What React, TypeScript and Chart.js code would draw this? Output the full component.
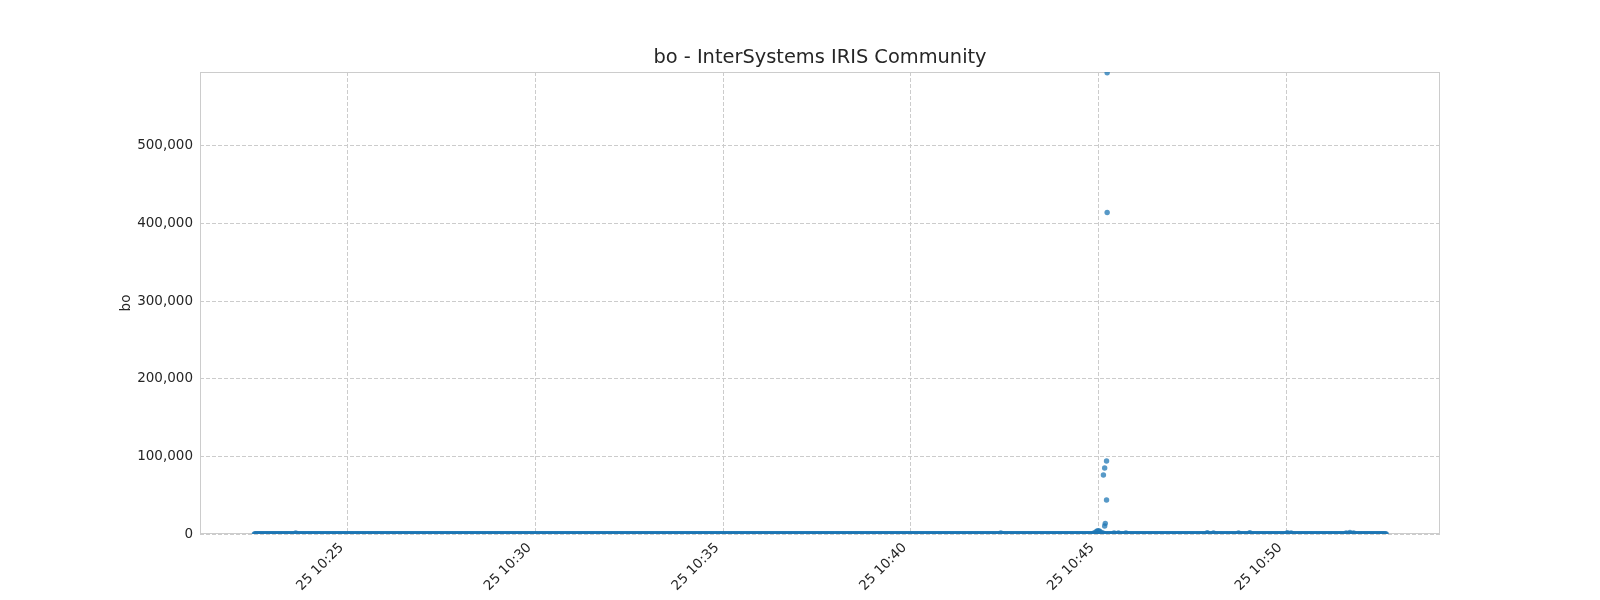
import React, { useEffect, useRef } from 'react';
import Chart from 'chart.js/auto';

// sampling window of the series, one reading per second (zero line)
const seriesStart = '10:22:31';
const seriesEnd = '10:52:40';
const sampleStep = 1;

// readings that stand off the zero line
const peakTimes = [
  '10:23:37', '10:42:24',
  '10:44:53', '10:44:56', '10:44:58', '10:45:00', '10:45:02', '10:45:05', '10:45:08',
  '10:45:08', '10:45:10', '10:45:10', '10:45:11', '10:45:13', '10:45:13', '10:45:14', '10:45:14',
  '10:45:25', '10:45:32', '10:45:44',
  '10:47:54', '10:48:04', '10:48:44', '10:49:02', '10:50:02', '10:50:08',
  '10:51:36', '10:51:42', '10:51:48',
];
const peakValues = [
  1500, 1500,
  1200, 2500, 3800, 4300, 3500, 2000, 900,
  76000, 85000, 10300, 13700, 94000, 43800, 414000, 594000,
  1200, 1500, 1300,
  1800, 1500, 1500, 1800, 1800, 1500,
  1500, 2000, 1500,
];

const xTickTimes = ['10:25', '10:30', '10:35', '10:40', '10:45', '10:50'];
const yTickValues = [0, 100000, 200000, 300000, 400000, 500000];

const chartTitle = 'bo - InterSystems IRIS Community';
const xMin = '10:21:04';
const xMax = '10:54:06';
const yMax = 595000;

const toSec = (t: string) => {
  const [h, m, s] = t.split(':').map(Number);
  return h * 3600 + m * 60 + (s || 0);
};

const pad2 = (n: number) => String(n).padStart(2, '0');

const FONT = 'DejaVu Sans';
const TEXT = '#262626';

// matplotlib-like frame on all four sides + title centred over the axes
const framePlugin = {
  id: 'frame',
  beforeDatasetsDraw(chart: any) {
    const { ctx, chartArea: a } = chart;
    ctx.save();
    ctx.strokeStyle = '#cccccc';
    ctx.lineWidth = 1;
    ctx.strokeRect(a.left + 0.5, a.top + 0.5, a.right - a.left - 1, a.bottom - a.top - 1);
    ctx.restore();
  },
  afterDraw(chart: any) {
    const { ctx, chartArea: a } = chart;
    ctx.save();
    ctx.fillStyle = TEXT;
    ctx.font = `19.4px "${FONT}"`;
    ctx.textAlign = 'center';
    ctx.textBaseline = 'middle';
    ctx.fillText(chartTitle, (a.left + a.right) / 2, 57.6);
    ctx.restore();
  },
};

export default function App() {
  const canvasRef = useRef<HTMLCanvasElement>(null);
  const chartRef = useRef<Chart | null>(null);

  useEffect(() => {
    if (!canvasRef.current) return;
    if (chartRef.current) chartRef.current.destroy();

    const points: { x: number; y: number }[] = [];
    for (let s = toSec(seriesStart); s <= toSec(seriesEnd); s += sampleStep) {
      points.push({ x: s, y: 0 });
    }
    peakTimes.forEach((t, i) => points.push({ x: toSec(t), y: peakValues[i] }));

    const ctx = canvasRef.current.getContext('2d');
    if (!ctx) return;

    chartRef.current = new Chart(ctx, {
      type: 'scatter',
      data: {
        datasets: [
          {
            label: 'bo',
            data: points,
            backgroundColor: 'rgba(31,119,180,0.75)',
            borderWidth: 0,
            pointRadius: 2.7,
            clip: 0,
          } as any,
        ],
      },
      plugins: [framePlugin],
      options: {
        responsive: false,
        animation: false,
        events: [],
        layout: { padding: { left: 0, right: 160, top: 72, bottom: 0 } },
        plugins: {
          legend: { display: false },
          tooltip: { enabled: false },
          title: { display: false },
        },
        scales: {
          x: {
            type: 'linear',
            min: toSec(xMin),
            max: toSec(xMax),
            afterBuildTicks: (scale: any) => {
              scale.ticks = xTickTimes.map((t) => ({ value: toSec(t) }));
            },
            afterFit: (scale: any) => {
              scale.height = 66;
            },
            grid: { color: '#cccccc', lineWidth: 1, drawTicks: false },
            border: { display: false, dash: [4, 2] },
            ticks: {
              autoSkip: false,
              minRotation: 45,
              maxRotation: 45,
              padding: 6,
              labelOffset: -6,
              color: TEXT,
              font: { family: FONT, size: 13.5 },
              callback: (v: any) => {
                const n = Number(v);
                return `25 ${pad2(Math.floor(n / 3600))}:${pad2(Math.floor((n % 3600) / 60))}`;
              },
            },
          },
          y: {
            type: 'linear',
            min: 0,
            max: yMax,
            afterBuildTicks: (scale: any) => {
              scale.ticks = yTickValues.map((v) => ({ value: v }));
            },
            afterFit: (scale: any) => {
              scale.width = 200;
            },
            grid: { color: '#cccccc', lineWidth: 1, drawTicks: false },
            border: { display: false, dash: [4, 2] },
            title: {
              display: true,
              text: 'bo',
              color: TEXT,
              font: { family: FONT, size: 13.5 },
              padding: { top: 118, bottom: 0 },
            },
            ticks: {
              padding: 7,
              color: TEXT,
              font: { family: FONT, size: 13.5 },
              callback: (v: any) => Number(v).toLocaleString('en-US'),
            },
          },
        },
      } as any,
    });

    return () => {
      if (chartRef.current) {
        chartRef.current.destroy();
        chartRef.current = null;
      }
    };
  }, []);

  return (
    <div style={{ position: 'fixed', left: 0, top: 0, width: 1600, height: 600, background: '#ffffff' }}>
      <canvas ref={canvasRef} width={1600} height={600} />
    </div>
  );
}
